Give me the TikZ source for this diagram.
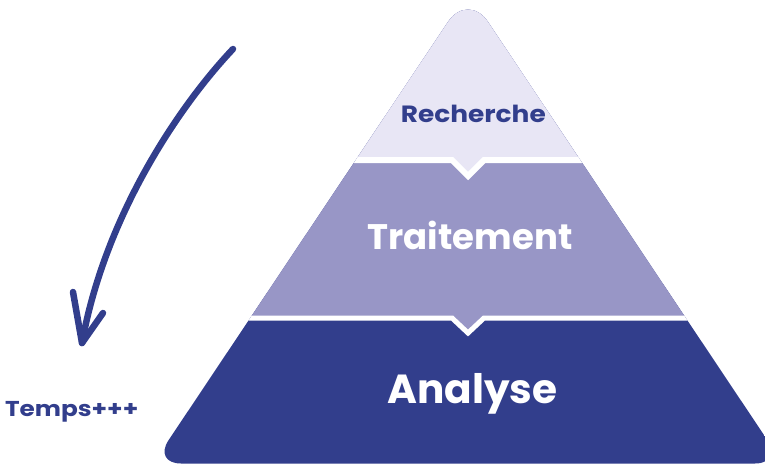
\documentclass[tikz,border=0pt]{standalone}
\usepackage{fontspec}
\setmainfont{Poppins}
\usetikzlibrary{calc}

\definecolor{tierlight}{HTML}{E8E6F5}
\definecolor{tiermid}{HTML}{9896C6}
\definecolor{tierdark}{HTML}{323E8C}

\tikzset{
  label/.style={inner sep=0pt, anchor=base, font=\bfseries},
  gapline/.style={draw=white, line join=miter},
  timearrow/.style={draw=tierdark, line width=6.5pt, line cap=round, line join=round},
}

\begin{document}
\begin{tikzpicture}[x=1pt, y=-1pt]
  \useasboundingbox (0,0) rectangle (765,464);
  \clip (0,0) rectangle (765,464);

  % pyramid: three tiers separated by white notched gaps
  \begin{scope}
    \clip (468,463.5) [rounded corners=28] -- (153,463.5)
      [rounded corners=36] -- (468,-8)
      [rounded corners=28] -- (783,463.5) -- cycle;
    \fill[tierdark] (100,-20) rectangle (800,480);
    \fill[tiermid] (100,-20) -- (800,-20) -- (800,318) -- (484,318)
      -- (468,333) -- (452,318) -- (100,318) -- cycle;
    \fill[tierlight] (100,-20) -- (800,-20) -- (800,160) -- (484,160)
      -- (468,176) -- (452,160) -- (100,160) -- cycle;
    \draw[gapline, line width=5] (100,318) -- (452,318) -- (468,333)
      -- (484,318) -- (800,318);
    \draw[gapline, line width=6] (100,160) -- (452,160) -- (468,176)
      -- (484,160) -- (800,160);
  \end{scope}

  % tier labels
  \node[label, text=tierdark, font=\bfseries\fontsize{23.5}{25}\selectfont]
    (recherche) at (473.3,122.3) {\scalebox{1.125}[1]{Recherche}};
  \node[label, text=white, font=\bfseries\fontsize{35.5}{38}\selectfont]
    (traitement) at (470,249) {Traitement};
  \node[label, text=white, font=\bfseries\fontsize{40.6}{44}\selectfont]
    (analyse) at (472.5,403.3) {Analyse};

  % time arrow and its caption
  \node[label, text=tierdark, font=\bfseries\fontsize{21.5}{23}\selectfont]
    (temps) at (71.7,416) {\scalebox{1.15}[1]{Temps+++}};
  \coordinate (arrowstart) at (233,49);
  \coordinate (arrowtip) at (82,343);
  \draw[timearrow] (arrowstart) .. controls (180,105) and (105,215) .. (arrowtip);
  \draw[timearrow] ($(arrowtip)+(-9,-51)$) -- (arrowtip) -- ($(arrowtip)+(21,-30)$);
\end{tikzpicture}
\end{document}
